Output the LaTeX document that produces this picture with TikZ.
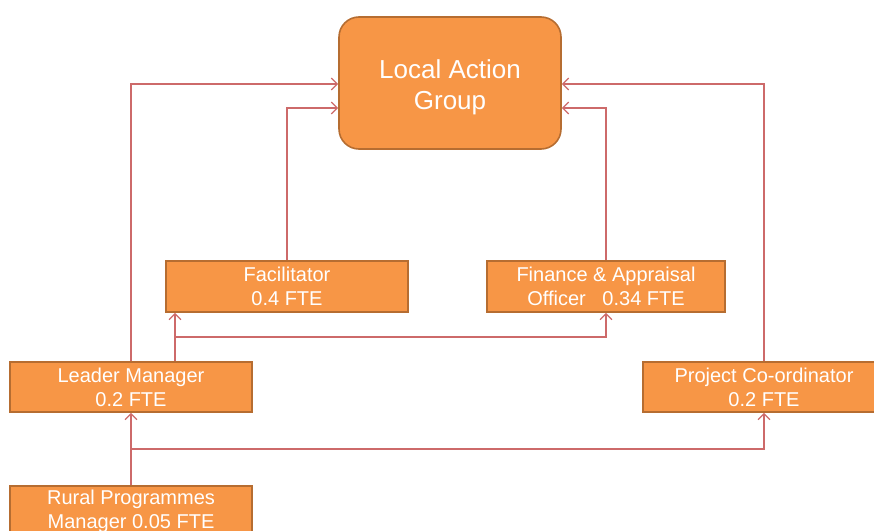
\documentclass[tikz,border=0pt]{standalone}
\usepackage{fontspec}
\setmainfont{Liberation Sans}
\usetikzlibrary{arrows.meta,calc}
\definecolor{boxfill}{HTML}{F79646}
\definecolor{boxedge}{HTML}{B66D31}
\definecolor{conn}{HTML}{CD6A6A}
\tikzset{
  orgbox/.style={draw=boxedge, fill=boxfill, line width=1.6pt, text=white,
    align=center, inner sep=0pt, font=\fontsize{20}{24}\selectfont},
  conline/.style={draw=conn, line width=1.3pt, -{Straight Barb[length=6pt,width=12pt]}},
  plainline/.style={draw=conn, line width=1.3pt}
}
\begin{document}
\begin{tikzpicture}[x=1pt,y=-1pt]
\useasboundingbox (0,0) rectangle (874,530);
\clip (0,0) rectangle (874,530);
\node[orgbox, rounded corners=20pt, minimum width=222pt, minimum height=132pt,
  label={[text=white, align=center, inner sep=0pt, yshift=-4pt,
    font=\fontsize{26}{31}\selectfont]center:Local Action\\Group}] (lag) at (450,83) {};
\node[orgbox, minimum width=242pt, minimum height=51pt] (fac) at (287,286.5) {Facilitator\\0.4 FTE};
\node[orgbox, minimum width=238pt, minimum height=51pt] (fin) at (606,286.5) {Finance \& Appraisal\\Officer\ \ \ 0.34 FTE};
\node[orgbox, minimum width=242pt, minimum height=50pt] (lead) at (131,387) {Leader Manager\\0.2 FTE};
\node[orgbox, minimum width=242pt, minimum height=50pt] (proj) at (764,387) {Project Co-ordinator\\0.2 FTE};
\node[orgbox, minimum width=242pt, minimum height=50pt] (rural) at (131,511) {Rural Programmes\\Manager 0.05 FTE};

\coordinate (lagWu) at ([yshift=-1pt]lag.west);
\coordinate (lagWl) at ([yshift=-25pt]lag.west);
\coordinate (lagEu) at ([yshift=-1pt]lag.east);
\coordinate (lagEl) at ([yshift=-25pt]lag.east);

\draw[conline] (lead.north) |- (lagWu);
\draw[conline] (fac.north) |- (lagWl);
\draw[conline] (fin.north) |- (lagEl);
\draw[conline] (proj.north) |- (lagEu);

\draw[conline] (rural.north) -- (lead.south);
\coordinate (j1) at ($(rural.north)!0.5!(lead.south)$);
\draw[conline] (j1) -| (proj.south);

\coordinate (lt) at ([xshift=44pt]lead.north);
\coordinate (fb) at (lt |- fac.south);
\draw[conline] (lt) -- (fb);
\coordinate (j2) at ($(lt)!0.5!(fb)$);
\draw[conline] (j2) -| (fin.south);
\end{tikzpicture}
\end{document}
